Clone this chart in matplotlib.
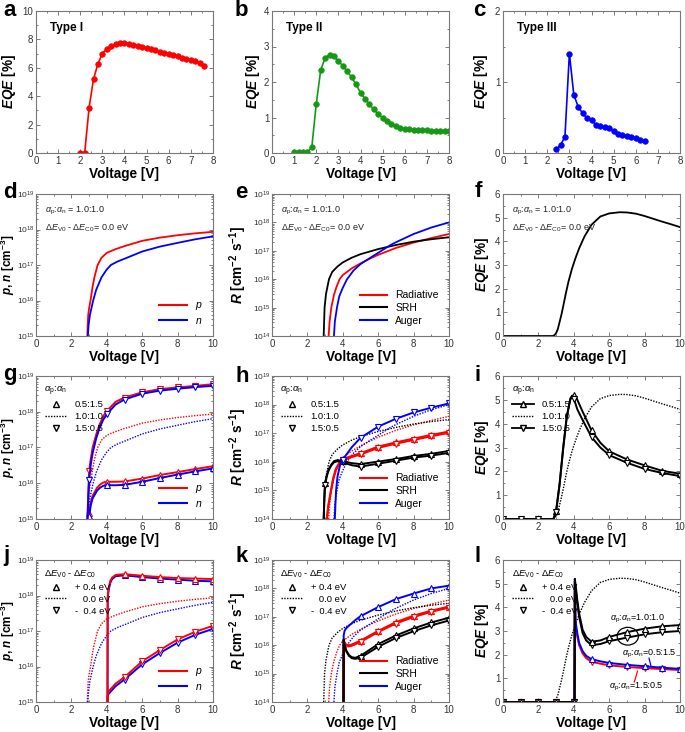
import matplotlib
matplotlib.use('Agg')
import matplotlib.pyplot as plt
from matplotlib.lines import Line2D
from matplotlib.legend import Legend
from matplotlib.patches import Ellipse
from matplotlib.ticker import AutoMinorLocator, MultipleLocator

plt.rcParams['font.family'] = ['Liberation Sans', 'DejaVu Sans']
plt.rcParams['mathtext.fontset'] = 'custom'
plt.rcParams['mathtext.rm'] = 'Liberation Sans'
plt.rcParams['mathtext.it'] = 'Liberation Sans:italic'
plt.rcParams['mathtext.bf'] = 'Liberation Sans:bold'
plt.rcParams['mathtext.bfit'] = 'Liberation Sans:italic:bold'

# ---- a, b, c : measured EQE ----
a_v = [2.0, 2.2, 2.4, 2.6, 2.8, 3.0, 3.2, 3.4, 3.6, 3.8, 4.0, 4.2, 4.4, 4.6, 4.8,
       5.0, 5.2, 5.4, 5.6, 5.8, 6.0, 6.2, 6.4, 6.6, 6.8, 7.0, 7.2, 7.4, 7.6]
a_eqe = [0.0, 0.0, 3.2, 5.2, 6.3, 7.0, 7.35, 7.5, 7.65, 7.72, 7.72, 7.68, 7.62, 7.52, 7.45,
         7.38, 7.3, 7.22, 7.12, 7.05, 6.97, 6.88, 6.8, 6.72, 6.63, 6.55, 6.47, 6.35, 6.12]

b_v = [1.0, 1.2, 1.4, 1.6, 1.8, 2.0, 2.2, 2.4, 2.6, 2.8, 3.0, 3.2, 3.4, 3.6, 3.8, 4.0, 4.2, 4.4,
       4.6, 4.8, 5.0, 5.2, 5.4, 5.6, 5.8, 6.0, 6.2, 6.4, 6.6, 6.8, 7.0, 7.2, 7.4, 7.6, 7.8, 8.0]
b_eqe = [0.02, 0.03, 0.03, 0.02, 0.17, 1.38, 2.33, 2.68, 2.77, 2.73, 2.58, 2.46, 2.3, 2.13, 1.93, 1.70, 1.53, 1.37,
         1.23, 1.10, 0.99, 0.90, 0.81, 0.75, 0.70, 0.68, 0.67, 0.66, 0.65, 0.64, 0.64, 0.63, 0.63, 0.62, 0.62, 0.61]

c_v = [2.4, 2.6, 2.8, 3.0, 3.2, 3.4, 3.6, 3.8, 4.0, 4.2, 4.4, 4.6, 4.8, 5.0, 5.2, 5.4, 5.6, 5.8, 6.0, 6.2, 6.4]
c_eqe = [0.05, 0.11, 0.23, 1.40, 0.82, 0.65, 0.56, 0.49, 0.46, 0.40, 0.38, 0.365, 0.35, 0.31, 0.27,
         0.25, 0.235, 0.22, 0.205, 0.19, 0.175]

# ---- d, e, f : reference simulation (1.0:1.0, 0.0 eV) ----
d_v_p = [2.90, 2.92, 2.95, 3.0, 3.08, 3.2, 3.3, 3.48, 3.7, 4.0, 4.5, 5.0, 6.0, 7.0, 8.0, 9.0, 10.0]
d_p = [1e15, 2e15, 4e15, 6e15, 1e16, 2.5e16, 4.5e16, 1e17, 1.6e17, 2.2e17, 2.8e17, 3.4e17, 4.8e17,
       5.9e17, 6.9e17, 7.8e17, 8.6e17]
d_v_n = [2.93, 2.97, 3.05, 3.23, 3.4, 3.7, 4.0, 4.23, 4.6, 5.0, 6.0, 7.0, 8.0, 9.0, 10.0]
d_n = [1e15, 2e15, 4e15, 1e16, 2e16, 4.5e16, 7.5e16, 1e17, 1.25e17, 1.5e17, 2.4e17, 3.3e17, 4.2e17, 5.3e17, 6.4e17]

e_v_srh = [2.92, 2.95, 2.97, 3.05, 3.22, 3.4, 3.7, 4.0, 4.5, 5.0, 6.0, 7.0, 8.0, 9.0, 10.0]
e_srh = [1e14, 4e14, 1e15, 3e15, 1e16, 1.8e16, 2.8e16, 3.9e16, 5.7e16, 7.6e16, 1.15e17, 1.6e17, 2.1e17, 2.55e17, 3e17]
e_v_rad = [3.2, 3.25, 3.35, 3.5, 3.65, 3.82, 4.0, 4.5, 5.0, 5.5, 6.0, 7.0, 8.0, 9.0, 10.0]
e_rad = [1e14, 3e14, 1e15, 2.8e15, 5.5e15, 1e16, 1.4e16, 2.4e16, 3.6e16, 5.2e16, 7.2e16, 1.26e17, 1.95e17, 2.8e17, 3.9e17]
e_v_aug = [3.5, 3.55, 3.67, 3.8, 4.0, 4.24, 4.6, 5.0, 5.5, 6.0, 6.7, 7.0, 8.0, 9.0, 10.0]
e_aug = [1e14, 3.2e14, 1e15, 2.5e15, 5e15, 1e16, 2e16, 3.4e16, 5.4e16, 8.5e16, 1.6e17, 2e17, 3.9e17, 6.6e17, 1e18]

f_v = [0, 2.8, 2.9, 3.0, 3.1, 3.2, 3.3, 3.4, 3.55, 3.7, 3.9, 4.1, 4.3, 4.6, 5.0, 5.5, 6.0, 6.6,
       7.0, 7.5, 8.0, 8.5, 9.0, 9.5, 10.0]
f_eqe = [0, 0, 0.03, 0.12, 0.3, 0.6, 0.9, 1.25, 1.8, 2.3, 2.85, 3.3, 3.7, 4.2, 4.7, 5.05, 5.18, 5.23,
         5.22, 5.17, 5.07, 4.95, 4.83, 4.72, 4.6]

# ---- g, h, i : alpha_p:alpha_n variation ----
g_v_hi = [2.91, 2.95, 3.0, 3.1, 3.2, 3.4, 3.6, 3.8, 4.0, 4.5, 5.0, 6.0, 7.0, 8.0, 9.0, 10.0]
g_p_hi = [1e15, 5e15, 2.2e16, 5e16, 1e17, 2.3e17, 4.5e17, 7.5e17, 1.05e18, 1.9e18, 2.5e18, 3.5e18,
          4.3e18, 4.8e18, 5.3e18, 5.9e18]
g_n_hi = [1e15, 3e15, 1.2e16, 3.5e16, 7e16, 1.8e17, 3.6e17, 6e17, 8.5e17, 1.6e18, 2.2e18, 3.2e18,
          3.9e18, 4.4e18, 4.9e18, 5.3e18]
g_v_lo = [2.95, 3.0, 3.1, 3.2, 3.3, 3.45, 3.6, 3.8, 4.0, 4.5, 5.0, 6.0, 7.0, 8.0, 9.0, 10.0]
g_p_lo = [1e15, 1.5e15, 3e15, 4.5e15, 5.5e15, 7.5e15, 9e15, 1.05e16, 1.1e16, 1.1e16, 1.12e16, 1.35e16,
          1.7e16, 2.05e16, 2.5e16, 3e16]
g_n_lo = [1e15, 1.2e15, 2.5e15, 3.8e15, 4.6e15, 6.2e15, 7.4e15, 8.5e15, 8.8e15, 8.8e15, 9e15, 1.1e16,
          1.4e16, 1.75e16, 2.15e16, 2.6e16]

h_v_aug = [3.55, 3.58, 3.62, 3.7, 3.85, 4.0, 4.5, 5.0, 6.0, 7.0, 8.0, 9.0, 10.0]
h_aug = [1e14, 3e14, 1e15, 3e15, 8e15, 1.2e16, 3.2e16, 6.9e16, 1.7e17, 3.2e17, 5.3e17, 7.8e17, 1.1e18]
h_v_rad = [3.1, 3.18, 3.3, 3.45, 3.6, 3.8, 4.0, 4.5, 5.0, 6.0, 7.0, 8.0, 9.0, 10.0]
h_rad_a = [1e14, 3e14, 8e14, 2.6e15, 5.6e15, 9.3e15, 1.25e16, 1.6e16, 2e16, 3.4e16, 4.8e16, 6.5e16, 8.7e16, 1.15e17]
h_rad_b = [1e14, 2.7e14, 7e14, 2.3e15, 5e15, 8.4e15, 1.12e16, 1.45e16, 1.8e16, 3.05e16, 4.3e16, 5.8e16, 7.8e16, 1.03e17]
h_v_srh = [2.92, 2.95, 2.98, 3.0, 3.1, 3.2, 3.35, 3.5, 3.7, 3.85, 4.0, 4.5, 5.0, 6.0, 7.0, 8.0, 9.0, 10.0]
h_srh_a = [1e14, 4e14, 1.1e15, 1.8e15, 3.5e15, 5.5e15, 8e15, 1.05e16, 1.15e16, 1.1e16, 1.05e16, 9e15,
           8.3e15, 1.02e16, 1.25e16, 1.6e16, 1.9e16, 2.4e16]
h_srh_b = [1e14, 3.6e14, 1e15, 1.6e15, 3.2e15, 5e15, 7.4e15, 9.6e15, 1.05e16, 1e16, 9.5e15, 7.6e15,
           6.8e15, 8.6e15, 1.1e16, 1.4e16, 1.65e16, 2.05e16]

i_v = [0, 1, 2, 2.85, 3.0, 3.2, 3.4, 3.6, 3.8, 3.9, 4.0, 4.2, 4.5, 5.0, 5.5, 6.0, 7.0, 8.0, 9.0, 10.0]
i_up = [0, 0, 0, 0, 0.35, 1.5, 3.0, 4.3, 5.0, 5.15, 5.2, 5.0, 4.5, 3.72, 3.2, 2.84, 2.5, 2.25, 2.02, 1.9]
i_dn = [0, 0, 0, 0, 0.3, 1.45, 2.95, 4.25, 5.05, 5.17, 5.05, 4.6, 4.15, 3.44, 3.0, 2.68, 2.36, 2.1, 1.93, 1.8]

# ---- j, k, l : band offset variation ----
j_v_hi = [4.04, 4.05, 4.1, 4.2, 4.3, 4.5, 5.0, 6.0, 7.0, 8.0, 9.0, 10.0]
j_p_hi = [1e15, 9e17, 1.6e18, 2.6e18, 3.2e18, 3.8e18, 4e18, 3.6e18, 3.3e18, 3.1e18, 3e18, 2.9e18]
j_n_hi = [1e15, 8e17, 1.4e18, 2.3e18, 2.9e18, 3.5e18, 3.7e18, 3.3e18, 3e18, 2.8e18, 2.6e18, 2.5e18]
j_v_lo = [4.04, 4.05, 4.1, 4.5, 5.0, 6.0, 7.0, 8.0, 9.0, 10.0]
j_p_lo = [1e15, 1.6e15, 2e15, 3.3e15, 5e15, 1.4e16, 2.9e16, 5.8e16, 9.5e16, 1.4e17]
j_n_lo = [1e15, 1.4e15, 1.7e15, 2.8e15, 4.3e15, 1.15e16, 2.4e16, 4.7e16, 7.8e16, 1.15e17]

k_v_aug = [4.04, 4.05, 4.1, 4.2, 4.4, 4.7, 5.0, 6.0, 7.0, 8.0, 9.0, 10.0]
k_aug = [1e14, 2.2e16, 3.2e16, 4e16, 5.2e16, 7.6e16, 1.05e17, 2.2e17, 4.2e17, 6.6e17, 1e18, 1.25e18]
k_v_rad = [4.04, 4.05, 4.15, 4.3, 4.5, 5.0, 6.0, 7.0, 8.0, 9.0, 10.0]
k_rad_a = [1e14, 1.5e16, 1.1e16, 1e16, 1.05e16, 1.45e16, 3.2e16, 6.5e16, 1.1e17, 1.65e17, 2.3e17]
k_rad_b = [1e14, 1.4e16, 1e16, 9e15, 9.5e15, 1.3e16, 2.9e16, 5.8e16, 9.8e16, 1.5e17, 2.1e17]
k_v_srh = [4.04, 4.05, 4.1, 4.2, 4.35, 4.5, 4.7, 5.0, 6.0, 7.0, 8.0, 9.0, 10.0]
k_srh_a = [1e14, 1.6e16, 1e16, 6.5e15, 4.5e15, 3.8e15, 3.6e15, 4.2e15, 1.1e16, 2.2e16, 3.9e16, 6.3e16, 9.3e16]
k_srh_b = [1e14, 1.5e16, 9e15, 6e15, 4.2e15, 3.5e15, 3.3e15, 3.6e15, 8.8e15, 1.8e16, 3.1e16, 5e16, 7.4e16]

l_v = [0, 1, 2, 3, 4, 4.04, 4.06, 4.1, 4.2, 4.3, 4.5, 4.7, 5.0, 5.5, 6.0, 7.0, 8.0, 9.0, 10.0]
l_blk_up = [0, 0, 0, 0, 0, 0, 5.2, 4.95, 4.3, 3.75, 3.05, 2.75, 2.55, 2.6, 2.75, 2.95, 3.1, 3.2, 3.25]
l_blk_dn = [0, 0, 0, 0, 0, 0, 5.1, 4.8, 4.15, 3.6, 2.9, 2.6, 2.4, 2.45, 2.57, 2.72, 2.86, 2.95, 3.0]
l_blue = [0, 0, 0, 0, 0, 0, 5.2, 3.4, 2.9, 2.5, 2.15, 1.95, 1.81, 1.72, 1.65, 1.57, 1.51, 1.45, 1.4]
l_red = [0, 0, 0, 0, 0, 0, 5.0, 3.2, 2.75, 2.4, 2.05, 1.85, 1.7, 1.62, 1.55, 1.48, 1.43, 1.39, 1.35]

RED, BLUE, GREEN, BLACK = '#ff0000', '#0000ff', '#159915', '#000000'
W, H = 685, 732
col_px = [36, 272, 503]
row_px = [(11, 153), (194, 336), (376, 519), (560, 702)]
letters = 'abcdefghijkl'
letter_pos = [(3, 16), (235, 16), (473, 16), (3, 198), (235, 198), (475, 197),
              (3, 380), (235, 382), (475, 381), (3, 561), (235, 562), (475, 562)]
# right edge of the rotated y label, in axes fraction
ylab_x = [-0.102, -0.056, -0.073, -0.108, -0.13, -0.068,
          -0.108, -0.13, -0.068, -0.108, -0.13, -0.068]

fig = plt.figure(figsize=(W / 100, H / 100), dpi=100)
axes = []
for r in range(4):
    for c in range(3):
        t, b = row_px[r]
        axes.append(fig.add_axes([col_px[c] / W, 1 - b / H, 177 / W, (b - t) / H]))
for k, (x, y) in enumerate(letter_pos):
    fig.text(x / W, 1 - y / H, letters[k], fontsize=16, fontweight='bold', va='baseline')


def ints(v):
    return [i for i, x in enumerate(v) if float(x).is_integer()]


def style(ax, xmax, log=False):
    ax.set_xlim(0, xmax)
    ax.tick_params(which='both', direction='in', top=True, right=True, colors='#666',
                   labelcolor='#333', labelsize=7, width=0.6, pad=2)
    ax.tick_params(which='major', length=3)
    ax.tick_params(which='minor', length=1.6)
    ax.xaxis.set_minor_locator(AutoMinorLocator(2))
    if log:
        ax.tick_params(axis='y', labelsize=6.0, pad=1.2)
    else:
        ax.yaxis.set_minor_locator(AutoMinorLocator(2))
    for s in ax.spines.values():
        s.set_color('#777')
        s.set_linewidth(0.8)
    ax.set_xlabel('Voltage [V]', fontsize=9.8, fontweight='bold', labelpad=1)


EQE_LABEL = r'$\mathbfit{EQE}$ [%]'
PN_LABEL = r'$\mathbfit{p}$, $\mathbfit{n}$ [cm$^{\mathbf{-3}}$]'
R_LABEL = r'$\mathbfit{R}$ [cm$^{\mathbf{-2}}$ s$^{\mathbf{-1}}$]'
ALPHA_TXT = r'$\alpha_\mathrm{p}$:$\alpha_\mathrm{n}$ = 1.0:1.0'
DE_TXT = r'$\Delta E_\mathrm{V0}$ - $\Delta E_\mathrm{C0}$= 0.0 eV'
DOT = (0, (1, 1))


def ylab(ax, text, size=9.8):
    ax.set_ylabel(text, fontsize=size, fontweight='bold')
    ax.yaxis.set_label_coords(ylab_x[axes.index(ax)], 0.5)


# ---- row 1 ----
for ax, v, y, col, ymax, title in [(axes[0], a_v, a_eqe, RED, 10, 'Type I'),
                                   (axes[1], b_v, b_eqe, GREEN, 4, 'Type II'),
                                   (axes[2], c_v, c_eqe, BLUE, 2, 'Type III')]:
    ax.plot(v, y, '-o', color=col, lw=1.2, ms=4, mfc=col, mec=col, mew=0.5)
    style(ax, 8)
    ax.set_ylim(0, ymax)
    ax.xaxis.set_major_locator(MultipleLocator(1))
    ylab(ax, EQE_LABEL)
    ax.text(0.08, 0.88, title, transform=ax.transAxes, fontsize=8.5, fontweight='bold', va='center')
axes[0].yaxis.set_major_locator(MultipleLocator(2))
axes[1].yaxis.set_major_locator(MultipleLocator(1))
axes[2].yaxis.set_major_locator(MultipleLocator(1))


def pn_legend(ax):
    hs = [Line2D([], [], color=RED, lw=1.5), Line2D([], [], color=BLUE, lw=1.5)]
    ax.legend(hs, ['$p$', '$n$'], loc='lower right', frameon=False, fontsize=7.5,
              handlelength=2.6, labelspacing=0.3, borderaxespad=0.6)


def r_legend(ax):
    hs = [Line2D([], [], color=RED, lw=1.5), Line2D([], [], color=BLACK, lw=1.5),
          Line2D([], [], color=BLUE, lw=1.5)]
    ax.legend(hs, ['Radiative', 'SRH', 'Auger'], loc='lower right', frameon=False, fontsize=7.5,
              handlelength=2.6, labelspacing=0.25, borderaxespad=0.6)


def var_legend(ax, title, labels, with_line=False):
    ls = '-' if with_line else 'none'
    hs = [Line2D([], [], color=BLACK, ls=ls, lw=1.3, marker='^', mfc='white', mec=BLACK, ms=4.5),
          Line2D([], [], color=BLACK, ls=DOT, lw=1.0),
          Line2D([], [], color=BLACK, ls=ls, lw=1.3, marker='v', mfc='white', mec=BLACK, ms=4.5)]
    lg = Legend(ax, hs, labels, title=title, loc='upper left', frameon=False, fontsize=6.8,
                title_fontsize=6.8, handlelength=2.4, labelspacing=0.3, borderaxespad=0.5,
                alignment='left')
    ax.add_artist(lg)


def ref_text(ax):
    ax.text(0.05, 0.87, ALPHA_TXT, transform=ax.transAxes, fontsize=6.5, color='#222')
    ax.text(0.05, 0.74, DE_TXT, transform=ax.transAxes, fontsize=6.5, color='#222')


# ---- row 2 ----
ax = axes[3]
ax.plot(d_v_p, d_p, color=RED, lw=1.3)
ax.plot(d_v_n, d_n, color=BLUE, lw=1.3)
ax.set_yscale('log')
ax.set_ylim(1e15, 1e19)
style(ax, 10, log=True)
ylab(ax, PN_LABEL, 8.5)
ref_text(ax)
pn_legend(ax)

ax = axes[4]
ax.plot(e_v_rad, e_rad, color=RED, lw=1.3)
ax.plot(e_v_srh, e_srh, color=BLACK, lw=1.3)
ax.plot(e_v_aug, e_aug, color=BLUE, lw=1.3)
ax.set_yscale('log')
ax.set_ylim(1e14, 1e19)
style(ax, 10, log=True)
ylab(ax, R_LABEL)
ref_text(ax)
r_legend(ax)

ax = axes[5]
ax.plot(f_v, f_eqe, color=BLACK, lw=1.3)
ax.set_ylim(0, 6)
style(ax, 10)
ax.yaxis.set_major_locator(MultipleLocator(1))
ylab(ax, EQE_LABEL)
ref_text(ax)

for ax in axes[3:]:
    ax.xaxis.set_major_locator(MultipleLocator(2))
    ax.xaxis.set_minor_locator(AutoMinorLocator(2))

ALPHA_T = r'$\alpha_\mathrm{p}$:$\alpha_\mathrm{n}$'
DE_T = r'$\Delta E_\mathrm{V0}$ - $\Delta E_\mathrm{C0}$'


def curve(ax, v, y, col, m, lw=1.4):
    ax.plot(v, y, color=col, lw=lw, marker=m, ms=4.5, mfc='white', mec=col, mew=0.8,
            markevery=ints(v))


# ---- row 3 ----
ax = axes[6]
ax.plot(d_v_p, d_p, color=RED, lw=1.0, ls=DOT)
ax.plot(d_v_n, d_n, color=BLUE, lw=1.0, ls=DOT)
curve(ax, g_v_lo, g_p_lo, RED, '^')
curve(ax, g_v_lo, g_n_lo, BLUE, '^')
curve(ax, g_v_hi, g_p_hi, RED, 'v')
curve(ax, g_v_hi, g_n_hi, BLUE, 'v')
ax.set_yscale('log')
ax.set_ylim(1e15, 1e19)
style(ax, 10, log=True)
ylab(ax, PN_LABEL, 8.5)
var_legend(ax, ALPHA_T, ['0.5:1.5', '1.0:1.0', '1.5:0.5'])
pn_legend(ax)

ax = axes[7]
ax.plot(e_v_rad, e_rad, color=RED, lw=1.0, ls=DOT)
ax.plot(e_v_srh, e_srh, color=BLACK, lw=1.0, ls=DOT)
ax.plot(e_v_aug, e_aug, color=BLUE, lw=1.0, ls=DOT)
curve(ax, h_v_rad, h_rad_a, RED, '^')
curve(ax, h_v_rad, h_rad_b, RED, 'v')
curve(ax, h_v_srh, h_srh_a, BLACK, '^')
curve(ax, h_v_srh, h_srh_b, BLACK, 'v')
curve(ax, h_v_aug, h_aug, BLUE, 'v')
ax.set_yscale('log')
ax.set_ylim(1e14, 1e19)
style(ax, 10, log=True)
ylab(ax, R_LABEL)
var_legend(ax, ALPHA_T, ['0.5:1.5', '1.0:1.0', '1.5:0.5'])
r_legend(ax)

ax = axes[8]
ax.plot(f_v, f_eqe, color=BLACK, lw=1.0, ls=DOT)
curve(ax, i_v, i_up, BLACK, '^')
curve(ax, i_v, i_dn, BLACK, 'v')
ax.set_ylim(0, 6)
style(ax, 10)
ax.yaxis.set_major_locator(MultipleLocator(1))
ylab(ax, EQE_LABEL)
var_legend(ax, ALPHA_T, ['0.5:1.5', '1.0:1.0', '1.5:0.5'], with_line=True)

# ---- row 4 ----
DE_LABELS = ['+ 0.4 eV', '   0.0 eV', '-  0.4 eV']
ax = axes[9]
ax.plot(d_v_p, d_p, color=RED, lw=1.0, ls=DOT)
ax.plot(d_v_n, d_n, color=BLUE, lw=1.0, ls=DOT)
curve(ax, j_v_lo, j_n_lo, BLUE, 'v')
curve(ax, j_v_hi, j_n_hi, BLUE, '^')
curve(ax, j_v_lo, j_p_lo, RED, 'v')
curve(ax, j_v_hi, j_p_hi, RED, '^')
ax.set_yscale('log')
ax.set_ylim(1e15, 1e19)
style(ax, 10, log=True)
ylab(ax, PN_LABEL, 8.5)
var_legend(ax, DE_T, DE_LABELS)
pn_legend(ax)

ax = axes[10]
ax.plot(e_v_rad, e_rad, color=RED, lw=1.0, ls=DOT)
ax.plot(e_v_srh, e_srh, color=BLACK, lw=1.0, ls=DOT)
ax.plot(e_v_aug, e_aug, color=BLUE, lw=1.0, ls=DOT)
curve(ax, k_v_aug, k_aug, BLUE, '^')
curve(ax, k_v_rad, k_rad_a, RED, '^')
curve(ax, k_v_rad, k_rad_b, RED, 'v')
curve(ax, k_v_srh, k_srh_a, BLACK, '^')
curve(ax, k_v_srh, k_srh_b, BLACK, 'v')
ax.set_yscale('log')
ax.set_ylim(1e14, 1e19)
style(ax, 10, log=True)
ylab(ax, R_LABEL)
var_legend(ax, DE_T, DE_LABELS)
r_legend(ax)

ax = axes[11]
ax.plot(f_v, f_eqe, color=BLACK, lw=1.0, ls=DOT)
curve(ax, l_v, l_red, RED, 'v')
curve(ax, l_v, l_blue, BLUE, '^')
curve(ax, l_v, l_blk_dn, BLACK, 'v')
curve(ax, l_v, l_blk_up, BLACK, '^')
ax.set_ylim(0, 6)
style(ax, 10)
ax.yaxis.set_major_locator(MultipleLocator(1))
ylab(ax, EQE_LABEL)
var_legend(ax, DE_T, DE_LABELS)
ax.add_patch(Ellipse((7.05, 2.78), 1.2, 0.75, fill=False, ec=BLACK, lw=0.9))
ax.text(6.05, 3.25, r'$\alpha_\mathrm{p}$:$\alpha_\mathrm{n}$=1.0:1.0', fontsize=6.5, va='bottom')
ax.text(6.75, 2.02, r'$\alpha_\mathrm{p}$:$\alpha_\mathrm{n}$=0.5:1.5', fontsize=6.5, va='center')
ax.plot([8.25, 8.35], [1.85, 1.55], color=BLUE, lw=0.9)
ax.text(6.0, 0.62, r'$\alpha_\mathrm{p}$:$\alpha_\mathrm{n}$=1.5:0.5', fontsize=6.5, va='center')
ax.plot([7.42, 7.6], [0.85, 1.3], color=RED, lw=0.9)

fig.savefig('out.png', dpi=100)
